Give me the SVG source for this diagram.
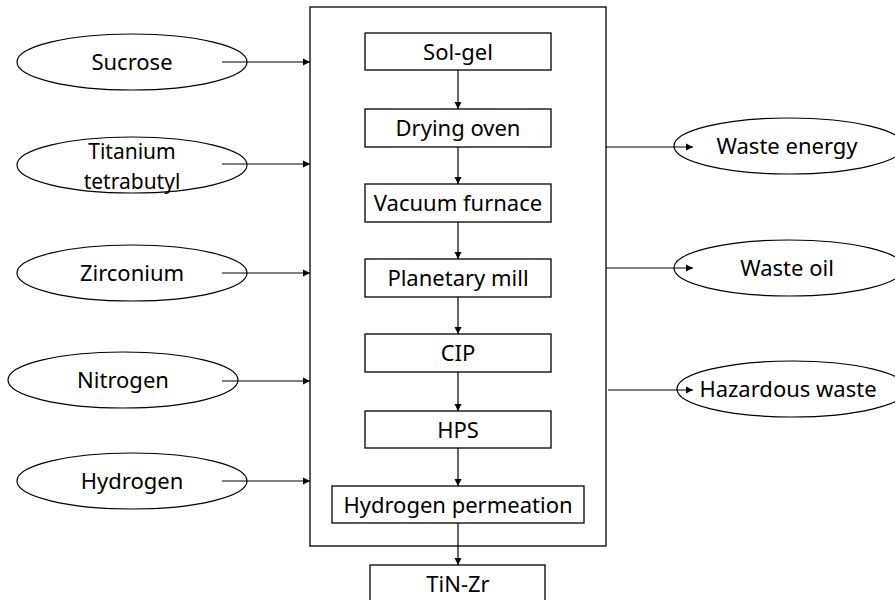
<svg xmlns="http://www.w3.org/2000/svg" width="895" height="600" viewBox="0 0 895 600">
<defs>
<marker id="ah" markerWidth="8" markerHeight="8" refX="7" refY="4" orient="auto" markerUnits="userSpaceOnUse">
<path d="M0,0.5 L7,4 L0,7.5 Z" fill="#000"/>
</marker>
<style>
.box{fill:#fff;stroke:#000;stroke-width:1.3}
.ell{fill:#fff;stroke:#000;stroke-width:1.2}
.lbl{font-family:"Noto Sans","Noto Sans CJK KR",sans-serif;font-size:22px;fill:#000;text-anchor:middle}
.sm{font-size:21px}
.con{stroke:#000;stroke-width:1.2;fill:none;marker-end:url(#ah)}
</style>
</defs>
<rect width="895" height="600" fill="#fff"/>
<g id="process-box"><rect class="box" x="310" y="7" width="296" height="539"/></g>
<g id="sol-gel"><rect class="box" x="365" y="33" width="186" height="37"/><text class="lbl" x="458" y="60">Sol-gel</text></g>
<g id="drying-oven"><rect class="box" x="365" y="109" width="186" height="38"/><text class="lbl" x="458" y="136">Drying oven</text></g>
<g id="vacuum-furnace"><rect class="box" x="365" y="184" width="186" height="38"/><text class="lbl" x="458" y="211">Vacuum furnace</text></g>
<g id="planetary-mill"><rect class="box" x="365" y="259" width="186" height="38"/><text class="lbl" x="458" y="286">Planetary mill</text></g>
<g id="cip"><rect class="box" x="365" y="334" width="186" height="38"/><text class="lbl" x="458" y="361">CIP</text></g>
<g id="hps"><rect class="box" x="365" y="411" width="186" height="37"/><text class="lbl" x="458" y="438">HPS</text></g>
<g id="hydrogen-permeation"><rect class="box" x="332" y="486" width="252" height="37"/><text class="lbl" x="458" y="513">Hydrogen permeation</text></g>
<g id="tin-zr"><rect class="box" x="370" y="565" width="175" height="45"/><text class="lbl" x="458" y="592">TiN-Zr</text></g>
<g id="sucrose"><ellipse class="ell" cx="132" cy="62" rx="115" ry="28"/><text class="lbl" x="132" y="70">Sucrose</text></g>
<g id="titanium-tetrabutyl"><ellipse class="ell" cx="132" cy="165" rx="115" ry="28"/><text class="lbl sm" x="132" y="159">Titanium</text><text class="lbl sm" x="132" y="189">tetrabutyl</text></g>
<g id="zirconium"><ellipse class="ell" cx="132" cy="273" rx="115" ry="28"/><text class="lbl" x="132" y="281">Zirconium</text></g>
<g id="nitrogen"><ellipse class="ell" cx="123" cy="380" rx="115" ry="28"/><text class="lbl" x="123" y="388">Nitrogen</text></g>
<g id="hydrogen"><ellipse class="ell" cx="132" cy="481" rx="115" ry="28"/><text class="lbl" x="132" y="489">Hydrogen</text></g>
<g id="waste-energy"><ellipse class="ell" cx="789" cy="146" rx="115" ry="28"/><text class="lbl" x="787" y="154">Waste energy</text></g>
<g id="waste-oil"><ellipse class="ell" cx="789" cy="268" rx="115" ry="28"/><text class="lbl" x="787" y="276">Waste oil</text></g>
<g id="hazardous-waste"><ellipse class="ell" cx="792" cy="389" rx="115" ry="28"/><text class="lbl" x="788" y="397">Hazardous waste</text></g>
<g id="connectors">
<line class="con" x1="458" y1="70" x2="458" y2="109"/>
<line class="con" x1="458" y1="147" x2="458" y2="184"/>
<line class="con" x1="458" y1="222" x2="458" y2="259"/>
<line class="con" x1="458" y1="297" x2="458" y2="334"/>
<line class="con" x1="458" y1="372" x2="458" y2="411"/>
<line class="con" x1="458" y1="448" x2="458" y2="486"/>
<line class="con" x1="458" y1="523" x2="458" y2="565"/>
<line class="con" x1="222" y1="62" x2="310" y2="62"/>
<line class="con" x1="222" y1="164" x2="310" y2="164"/>
<line class="con" x1="222" y1="273" x2="310" y2="273"/>
<line class="con" x1="222" y1="381" x2="310" y2="381"/>
<line class="con" x1="222" y1="481" x2="310" y2="481"/>
<line class="con" x1="606" y1="147" x2="693" y2="147"/>
<line class="con" x1="606" y1="268" x2="693" y2="268"/>
<line class="con" x1="608" y1="390" x2="693" y2="390"/>
</g>
</svg>
